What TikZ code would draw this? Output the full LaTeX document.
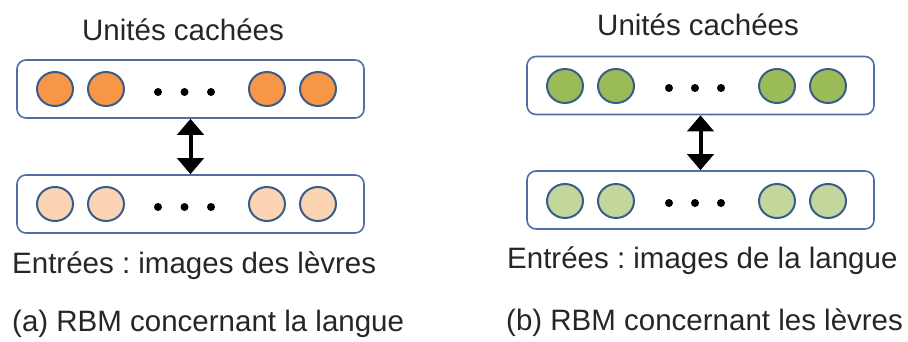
\documentclass[tikz,border=0pt]{standalone}
\usepackage{fontspec}
\setmainfont{Liberation Sans}
\frenchspacing
\usetikzlibrary{arrows.meta,shapes.geometric}
\definecolor{orangeA}{HTML}{F79646}
\definecolor{orangeB}{HTML}{FBD4B4}
\definecolor{greenA}{HTML}{9BBB59}
\definecolor{greenB}{HTML}{C3D69B}
\definecolor{ringcol}{HTML}{385D8A}
\definecolor{boxcol}{HTML}{4F6FA5}
\tikzset{
  layerbox/.style={draw=boxcol, line width=1.6pt, rounded corners=9pt, minimum width=347pt, minimum height=58pt, inner sep=0pt},
  unit/.style={draw=ringcol, line width=2pt, ellipse, minimum width=36pt, minimum height=34pt, inner sep=0pt},
  dotunit/.style={fill=black, circle, minimum size=8pt, inner sep=0pt},
  lbl/.style={font=\fontsize{29.5pt}{32pt}\selectfont\frenchspacing, inner sep=0pt, anchor=base west, text=black!85},
  link/.style={line width=4pt, {Triangle[width=26pt,length=16pt]}-{Triangle[width=26pt,length=16pt]}}
}
\begin{document}
\begin{tikzpicture}[x=1pt,y=-1pt]
\useasboundingbox (0,0) rectangle (908,341);
% left panel
\node[lbl] (lu) at (82,40.5) {Unités cachées};
\node[layerbox] (ltop) at (190.5,89) {};
\node[layerbox] (lbot) at (190.5,204) {};
\foreach \x [count=\i] in {55,106,267,318}{
  \node[unit, fill=orangeA] (lh\i) at (\x,89) {};
  \node[unit, fill=orangeB] (lv\i) at (\x,204) {};
}
\foreach \x [count=\i] in {158,184.5,211}{
  \node[dotunit] (lhd\i) at (\x,92) {};
  \node[dotunit] (lvd\i) at (\x,207) {};
}
\draw[link] (ltop.south) -- (lbot.north);
\node[lbl] (le) at (12,273) {Entrées : images des lèvres};
\node[lbl] (la) at (12,331) {(a) RBM concernant la langue};
% right panel
\node[lbl] (ru) at (597,35) {Unités cachées};
\node[layerbox] (rtop) at (700.5,85.5) {};
\node[layerbox] (rbot) at (700.5,200) {};
\foreach \x [count=\i] in {565,616,777,828}{
  \node[unit, fill=greenA] (rh\i) at (\x,86) {};
  \node[unit, fill=greenB] (rv\i) at (\x,201) {};
}
\foreach \x [count=\i] in {669,695,721}{
  \node[dotunit] (rhd\i) at (\x,88) {};
  \node[dotunit] (rvd\i) at (\x,203) {};
}
\draw[link] (rtop.south) -- (rbot.north);
\node[lbl] (re) at (507,268) {Entrées : images de la langue};
\node[lbl] (rb) at (506,330) {(b) RBM concernant les lèvres};
\end{tikzpicture}
\end{document}
